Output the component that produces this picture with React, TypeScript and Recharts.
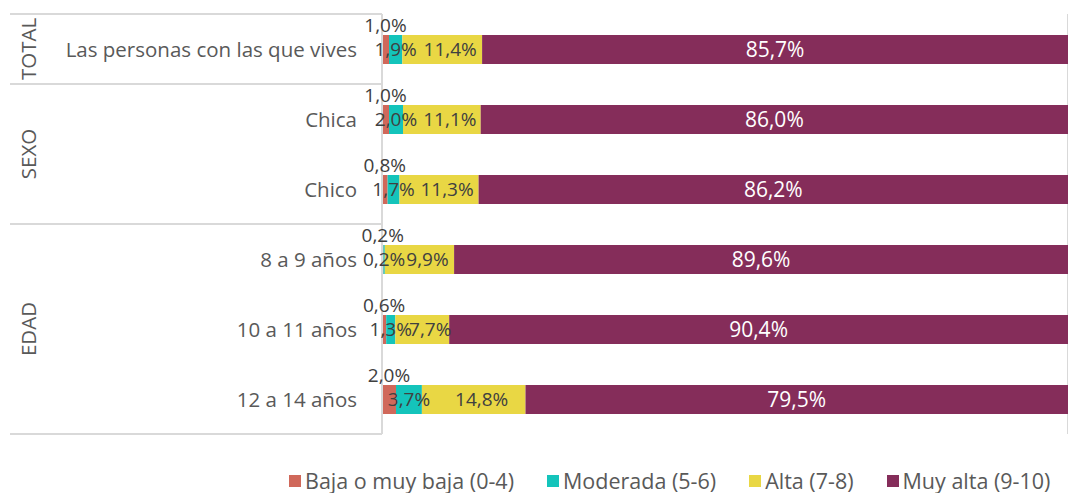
import React from "react";
import {
  Bar,
  BarChart,
  CartesianGrid,
  LabelList,
  Legend,
  XAxis,
  YAxis,
} from "recharts";

const categories = [
  "Las personas con las que vives",
  "Chica",
  "Chico",
  "8 a 9 años",
  "10 a 11 años",
  "12 a 14 años",
];
const groupNames = ["TOTAL", "SEXO", "EDAD"];
const groupSizes = [1, 2, 3];

const bajaValues = [1.0, 1.0, 0.8, 0.2, 0.6, 2.0];
const moderadaValues = [1.9, 2.0, 1.7, 0.2, 1.3, 3.7];
const altaValues = [11.4, 11.1, 11.3, 9.9, 7.7, 14.8];
const muyAltaValues = [85.7, 86.0, 86.2, 89.6, 90.4, 79.5];

const xTicks = [0, 10, 20, 30, 40, 50, 60, 70, 80, 90];

const series = [
  { key: "baja", name: "Baja o muy baja (0-4)", color: "#D0685A" },
  { key: "moderada", name: "Moderada (5-6)", color: "#14C4BB" },
  { key: "alta", name: "Alta (7-8)", color: "#E9D744" },
  { key: "muyAlta", name: "Muy alta (9-10)", color: "#852D5A" },
];

const data = categories.map((name, i) => ({
  name,
  baja: bajaValues[i],
  moderada: moderadaValues[i],
  alta: altaValues[i],
  muyAlta: muyAltaValues[i],
}));

const FONT = "'Open Sans', sans-serif";
const GRAY = "#595959";
const LINE = "#d9d9d9";

const fmt = (v: any) => `${Number(v).toFixed(1).replace(".", ",")}%`;

const groupStarts = groupSizes.map((_, g) =>
  groupSizes.slice(0, g).reduce((a, b) => a + b, 0)
);

function CategoryTick(props: any) {
  const { x, y, payload } = props;
  const idx = payload.index;
  const band = payload.offset ? payload.offset * 2 : 70;
  const g = groupStarts.indexOf(idx);
  return (
    <g>
      <text
        x={x - 25}
        y={y}
        textAnchor="end"
        dominantBaseline="central"
        fill={GRAY}
        fontSize={20.5}
        fontFamily={FONT}
      >
        {payload.value}
      </text>
      {g >= 0 && (
        <>
          <line x1={10} x2={x} y1={y - band / 2} y2={y - band / 2} stroke={LINE} strokeWidth={2} />
          <text
            x={28}
            y={y + ((groupSizes[g] - 1) * band) / 2}
            transform={`rotate(-90 28 ${y + ((groupSizes[g] - 1) * band) / 2})`}
            textAnchor="middle"
            dominantBaseline="central"
            fill={GRAY}
            fontSize={20.5}
            fontFamily={FONT}
          >
            {groupNames[g]}
          </text>
        </>
      )}
      {idx === categories.length - 1 && (
        <line x1={10} x2={x} y1={y + band / 2} y2={y + band / 2} stroke={LINE} strokeWidth={2} />
      )}
    </g>
  );
}

function LegendContent() {
  return (
    <div
      style={{
        display: "flex",
        alignItems: "center",
        height: 30,
        paddingLeft: 289,
        gap: 33,
        fontFamily: FONT,
        fontSize: 21.5,
        lineHeight: "30px",
        color: GRAY,
        whiteSpace: "nowrap",
      }}
    >
      {series.map((s) => (
        <div key={s.key} style={{ display: "flex", alignItems: "center", gap: 4 }}>
          <span style={{ width: 12, height: 12, background: s.color, display: "inline-block" }} />
          <span>{s.name}</span>
        </div>
      ))}
    </div>
  );
}

export default function App() {
  return (
    <div style={{ position: "absolute", left: 0, top: 0, width: 1068, height: 493, background: "#fff" }}>
      <BarChart
        width={1068}
        height={493}
        data={data}
        layout="vertical"
        margin={{ top: 14, right: 0, bottom: 29, left: 0 }}
        barSize={29}
      >
        <CartesianGrid horizontal={false} stroke={LINE} strokeWidth={2} />
        <XAxis
          type="number"
          domain={[0, 98]}
          ticks={xTicks}
          allowDataOverflow
          height={0}
          tick={false}
          axisLine={false}
          tickLine={false}
        />
        <YAxis
          type="category"
          dataKey="name"
          width={382}
          axisLine={{ stroke: LINE, strokeWidth: 2 }}
          tickLine={false}
          tickSize={0}
          tickMargin={0}
          tick={<CategoryTick />}
        />
        <Legend
          verticalAlign="bottom"
          content={<LegendContent />}
          wrapperStyle={{ bottom: -3, left: 0, width: 1068, height: 30 }}
        />
        <Bar dataKey="baja" name={series[0].name} stackId="a" fill={series[0].color} isAnimationActive={false}>
          <LabelList dataKey="baja" position="top" formatter={fmt} fill="#404040" fontSize={19} fontFamily={FONT} offset={3} />
        </Bar>
        <Bar dataKey="moderada" name={series[1].name} stackId="a" fill={series[1].color} isAnimationActive={false}>
          <LabelList dataKey="moderada" position="center" formatter={fmt} fill="#404040" fontSize={19} fontFamily={FONT} />
        </Bar>
        <Bar dataKey="alta" name={series[2].name} stackId="a" fill={series[2].color} isAnimationActive={false}>
          <LabelList dataKey="alta" position="center" formatter={fmt} fill="#404040" fontSize={19} fontFamily={FONT} dx={8} />
        </Bar>
        <Bar dataKey="muyAlta" name={series[3].name} stackId="a" fill={series[3].color} isAnimationActive={false}>
          <LabelList dataKey="muyAlta" position="center" formatter={fmt} fill="#ffffff" fontSize={21} fontFamily={FONT} />
        </Bar>
      </BarChart>
    </div>
  );
}
